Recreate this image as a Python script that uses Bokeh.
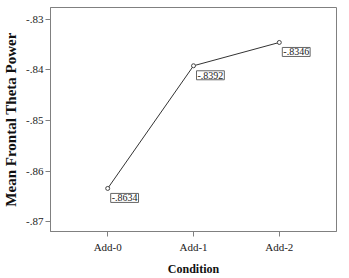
from bokeh.plotting import figure
from bokeh.models import ColumnDataSource, Label, FixedTicker, Range1d
from bokeh.embed import file_html
from bokeh.resources import INLINE

conditions = ["Add-0", "Add-1", "Add-2"]
means = [-0.8634, -0.8392, -0.8346]
mean_labels = ["-.8634", "-.8392", "-.8346"]
y_ticks = [-0.87, -0.86, -0.85, -0.84, -0.83]
y_tick_labels = ["-.87", "-.86", "-.85", "-.84", "-.83"]

xs = list(range(len(conditions)))
src = ColumnDataSource(dict(x=xs, y=means, lab=mean_labels))

SERIF = "Liberation Serif"

p = figure(width=349, height=278, output_backend="svg", toolbar_location=None,
           x_range=Range1d(-2/3, 8/3), y_range=Range1d(-0.8719, -0.8277),
           min_border_left=41, min_border_right=13, min_border_top=7, min_border_bottom=39)
p.xgrid.visible = False
p.ygrid.visible = False
p.outline_line_color = "#808080"
p.outline_line_width = 1

p.line("x", "y", source=src, line_color="#333333", line_width=1)
p.scatter("x", "y", source=src, size=4, marker="circle", fill_color="white",
          line_color="#444444", line_width=1)

for xv, yv, lab in zip(xs, means, mean_labels):
    p.add_layout(Label(x=xv, y=yv, text=lab, x_offset=3, y_offset=-5,
                       text_baseline="top", text_align="left", text_font=SERIF,
                       text_font_size="10px", text_color="#222222",
                       background_fill_color="white", border_line_color="#666666",
                       border_line_width=1, padding=1))

for ax in (p.xaxis[0], p.yaxis[0]):
    ax.axis_line_color = "#808080"
    ax.major_tick_line_color = "#808080"
    ax.minor_tick_line_color = None
    ax.major_tick_out = 5
    ax.major_tick_in = 0
    ax.major_label_text_font = SERIF
    ax.major_label_text_font_size = "11px"
    ax.major_label_text_color = "#222222"
    ax.axis_label_text_font = SERIF
    ax.axis_label_text_font_style = "bold"
    ax.axis_label_text_color = "#111111"

p.xaxis.ticker = FixedTicker(ticks=xs)
p.xaxis.major_label_overrides = {i: c for i, c in zip(xs, conditions)}
p.xaxis.axis_label = "Condition"
p.xaxis.axis_label_text_font_size = "12px"
p.xaxis.major_label_standoff = 4
p.xaxis.axis_label_standoff = 6

p.yaxis.ticker = FixedTicker(ticks=y_ticks)
p.yaxis.major_label_overrides = {t: l for t, l in zip(y_ticks, y_tick_labels)}
p.yaxis.axis_label = "Mean Frontal Theta Power"
p.yaxis.axis_label_text_font_size = "15px"
p.yaxis.major_label_standoff = 2
p.yaxis.axis_label_standoff = 4

open("out.html", "w").write(file_html(p, INLINE))
